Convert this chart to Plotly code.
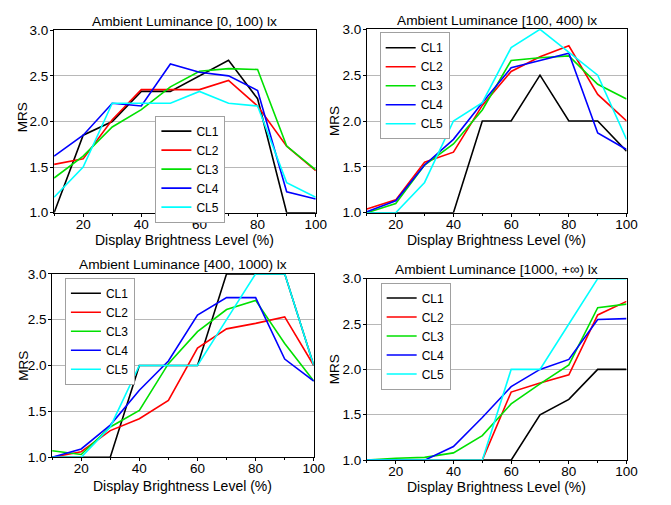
import plotly.graph_objects as go

x_levels = [10, 20, 30, 40, 50, 60, 70, 80, 90, 100]
series_names = ["CL1", "CL2", "CL3", "CL4", "CL5"]
panel_titles = ["Ambient Luminance [0, 100) lx", "Ambient Luminance [100, 400) lx",
                "Ambient Luminance [400, 1000) lx", "Ambient Luminance [1000, +\u221e) lx"]
x_ticks = [20, 40, 60, 80, 100]
y_ticks = [1.0, 1.5, 2.0, 2.5, 3.0]

# Panel 1: [0, 100) lx
p1_cl1 = [1.0, 1.85, 2.0, 2.33, 2.33, 2.5, 2.67, 2.25, 1.0, 1.0]
p1_cl2 = [1.53, 1.59, 2.02, 2.35, 2.35, 2.35, 2.45, 2.17, 1.73, 1.46]
p1_cl3 = [1.38, 1.62, 1.94, 2.13, 2.38, 2.55, 2.58, 2.57, 1.73, 1.47]
p1_cl4 = [1.62, 1.85, 2.2, 2.17, 2.63, 2.54, 2.5, 2.34, 1.23, 1.15]
p1_cl5 = [1.17, 1.5, 2.2, 2.2, 2.2, 2.33, 2.2, 2.17, 1.33, 1.17]

# Panel 2: [100, 400) lx
p2_cl1 = [1.0, 1.0, 1.0, 1.0, 2.0, 2.0, 2.5, 2.0, 2.0, 1.67]
p2_cl2 = [1.04, 1.14, 1.55, 1.66, 2.17, 2.54, 2.7, 2.82, 2.29, 2.0]
p2_cl3 = [1.0, 1.1, 1.52, 1.75, 2.12, 2.66, 2.69, 2.71, 2.4, 2.24]
p2_cl4 = [1.01, 1.13, 1.52, 1.8, 2.2, 2.58, 2.66, 2.74, 1.87, 1.69]
p2_cl5 = [1.0, 1.0, 1.33, 2.0, 2.2, 2.8, 3.0, 2.75, 2.5, 1.8]

# Panel 3: [400, 1000) lx
p3_cl1 = [1.0, 1.0, 1.0, 2.0, 2.0, 2.0, 3.0, 3.0, 3.0, 2.0]
p3_cl2 = [1.0, 1.06, 1.29, 1.42, 1.62, 2.19, 2.4, 2.46, 2.53, 2.0]
p3_cl3 = [1.07, 1.03, 1.33, 1.51, 2.02, 2.37, 2.61, 2.71, 2.24, 1.83]
p3_cl4 = [1.0, 1.09, 1.35, 1.73, 2.05, 2.55, 2.74, 2.74, 2.07, 1.83]
p3_cl5 = [1.0, 1.0, 1.33, 2.0, 2.0, 2.0, 2.5, 3.0, 3.0, 2.0]

# Panel 4: [1000, +inf) lx
p4_cl1 = [1.0, 1.0, 1.0, 1.0, 1.0, 1.0, 1.5, 1.67, 2.0, 2.0]
p4_cl2 = [1.0, 1.0, 1.0, 1.0, 1.0, 1.75, 1.85, 1.94, 2.6, 2.75]
p4_cl3 = [1.0, 1.02, 1.03, 1.08, 1.27, 1.62, 1.84, 2.05, 2.68, 2.72]
p4_cl4 = [1.0, 1.0, 1.0, 1.15, 1.47, 1.81, 2.0, 2.11, 2.55, 2.56]
p4_cl5 = [1.0, 1.0, 1.0, 1.0, 1.0, 2.0, 2.0, 2.5, 3.0, 3.0]

panels = [
    [p1_cl1, p1_cl2, p1_cl3, p1_cl4, p1_cl5],
    [p2_cl1, p2_cl2, p2_cl3, p2_cl4, p2_cl5],
    [p3_cl1, p3_cl2, p3_cl3, p3_cl4, p3_cl5],
    [p4_cl1, p4_cl2, p4_cl3, p4_cl4, p4_cl5],
]

colors = ["#000000", "#ff0000", "#00e000", "#0000ff", "#00ffff"]

W, H = 671, 505
# plot-area pixel boxes (left, right, top, bottom)
boxes = [(55, 321, 24, 212), (373, 637, 23, 212), (53, 319, 275, 464), (373, 637, 280, 467)]
legend_pos = [(158, 112), (386, 26), (66, 279), (387, 284)]
title_y = [15, 14, 265, 271]
xtitle_y = [240, 240, 494, 495]
ytitle_x = [23, 340, 23, 340]
ytitle_y = [114, 117, 370, 373]

fig = go.Figure()
font_family = "Liberation Sans, Arial, sans-serif"

for i, data in enumerate(panels):
    sfx = "" if i == 0 else str(i + 1)
    for j, ys in enumerate(data):
        fig.add_trace(go.Scatter(
            x=x_levels, y=ys, mode="lines", name=series_names[j],
            line=dict(color=colors[j], width=1.6),
            xaxis="x" + sfx, yaxis="y" + sfx,
            legend="legend" + sfx,
        ))
    l, r, t, b = boxes[i]
    xd = [l / W, r / W]
    yd = [1 - b / H, 1 - t / H]
    fig.update_layout(**{
        "xaxis" + sfx: dict(
            domain=xd, range=[10, 100], anchor="y" + sfx,
            tickvals=x_ticks, ticks="outside", ticklen=3, tickcolor="black",
            showline=True, mirror=True, linecolor="black", linewidth=1,
            showgrid=False, zeroline=False, ticklabelstandoff=-4,
            tickfont=dict(size=13.5, color="black", family=font_family),
            minor=dict(tickvals=[10, 30, 50, 70, 90], ticks="outside", ticklen=2, tickcolor="black"),
        ),
        "yaxis" + sfx: dict(
            domain=yd, range=[1, 3], anchor="x" + sfx,
            tickvals=y_ticks, tickformat=".1f", ticks="outside", ticklen=3, tickcolor="black",
            showline=True, mirror=True, linecolor="black", linewidth=1,
            showgrid=True, gridcolor="#b8b8b8", gridwidth=1, zeroline=False,
            ticklabelstandoff=-1,
            tickfont=dict(size=13.5, color="black", family=font_family),
        ),
        "legend" + sfx: dict(
            x=legend_pos[i][0] / W, y=1 - legend_pos[i][1] / H,
            xanchor="left", yanchor="top",
            bgcolor="white", bordercolor="#a0a0a0", borderwidth=1,
            font=dict(size=12, color="black", family=font_family),
            itemwidth=30, tracegroupgap=0,
        ),
    })
    cx = (l + r) / 2
    fig.add_annotation(text=panel_titles[i], x=cx / W, y=1 - title_y[i] / H,
                       xref="paper", yref="paper", showarrow=False,
                       xanchor="center", yanchor="middle",
                       font=dict(size=13.7, color="black", family=font_family))
    fig.add_annotation(text="Display Brightness Level (%)", x=cx / W, y=1 - xtitle_y[i] / H,
                       xref="paper", yref="paper", showarrow=False,
                       xanchor="center", yanchor="middle",
                       font=dict(size=14, color="black", family=font_family))
    fig.add_annotation(text="MRS", x=ytitle_x[i] / W, y=1 - ytitle_y[i] / H,
                       xref="paper", yref="paper", showarrow=False, textangle=-90,
                       xanchor="center", yanchor="middle",
                       font=dict(size=13.5, color="black", family=font_family))

fig.update_layout(
    width=W, height=H,
    margin=dict(l=0, r=0, t=0, b=0),
    paper_bgcolor="white", plot_bgcolor="white",
    showlegend=True,
)

fig.write_html("out.html")
